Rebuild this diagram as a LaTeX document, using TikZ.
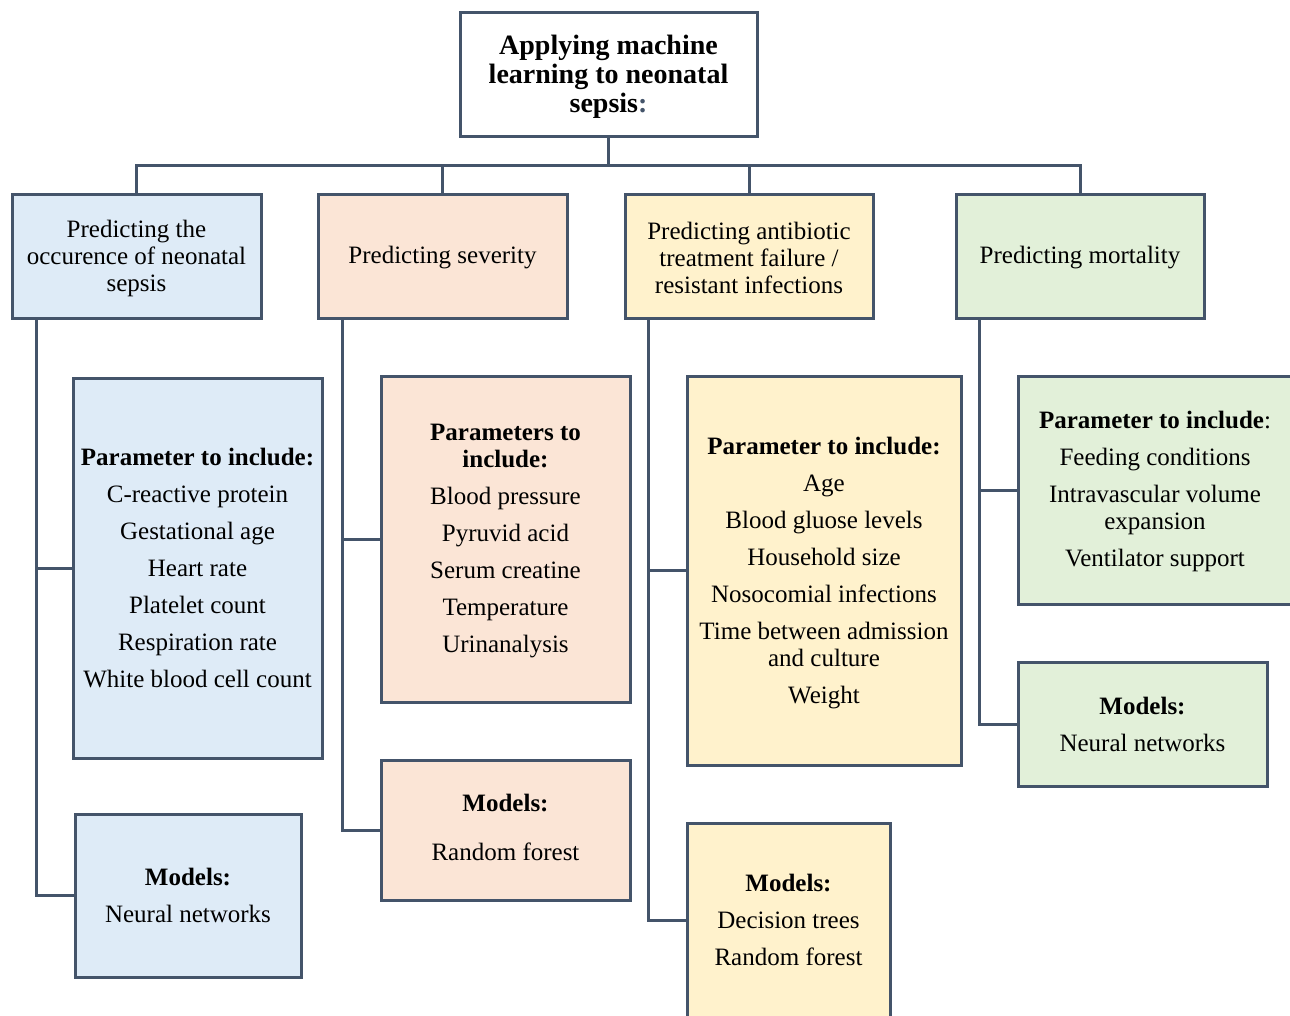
\documentclass[tikz,border=0pt]{standalone}
\usepackage{fontspec}
\setmainfont{Liberation Serif}
\definecolor{edge}{HTML}{44546A}
\definecolor{cblue}{HTML}{DEEBF7}
\definecolor{csalmon}{HTML}{FBE5D6}
\definecolor{cyellow}{HTML}{FFF2CC}
\definecolor{cgreen}{HTML}{E2F0D9}
\tikzset{
  box/.style={draw=edge, line width=3pt, rectangle, inner sep=0pt},
  tx/.style={align=center, inner sep=0pt, font=\fontsize{25}{27}\selectfont, text=black},
  wire/.style={draw=edge, line width=3pt},
}
\begin{document}
\begin{tikzpicture}[x=1pt,y=-1pt]
\clip (0,0) rectangle (1290,1015);
\fill[white] (0,0) rectangle (1290,1015);

\node[box, fill=white, minimum width=297, minimum height=124,
  label={[tx, yshift=-3pt, font=\fontsize{28}{29}\selectfont\bfseries]center:{Applying machine\\learning to neonatal\\sepsis{\color{edge}:}}}] (top) at (608.5,74) {};

\node[box, fill=cblue, minimum width=249, minimum height=124,
  label={[tx, yshift=-2pt]center:{Predicting the\\occurence of neonatal\\sepsis}}] (n1) at (136.5,256) {};
\node[box, fill=csalmon, minimum width=249, minimum height=124,
  label={[tx, yshift=-2pt]center:{Predicting severity}}] (n2) at (442.5,256) {};
\node[box, fill=cyellow, minimum width=248, minimum height=124,
  label={[tx, yshift=-2pt]center:{Predicting antibiotic\\treatment failure /\\resistant infections}}] (n3) at (749,256) {};
\node[box, fill=cgreen, minimum width=248, minimum height=124,
  label={[tx, yshift=-2pt]center:{Predicting mortality}}] (n4) at (1080,256) {};

\node[box, fill=cblue, minimum width=249, minimum height=380,
  label={[tx]center:{\textbf{Parameter to include:}\\[10pt]C-reactive protein\\[10pt]Gestational age\\[10pt]Heart rate\\[10pt]Platelet count\\[10pt]Respiration rate\\[10pt]White blood cell count}}] (bp) at (197.5,568) {};
\node[box, fill=cblue, minimum width=226, minimum height=163,
  label={[tx]center:{\textbf{Models:}\\[10pt]Neural networks}}] (bm) at (188,895.5) {};

\node[box, fill=csalmon, minimum width=249, minimum height=326,
  label={[tx, yshift=-2.5pt]center:{\textbf{Parameters to}\\\textbf{include:}\\[10pt]Blood pressure\\[10pt]Pyruvid acid\\[10pt]Serum creatine\\[10pt]Temperature\\[10pt]Urinanalysis}}] (sp) at (505.5,539) {};
\node[box, fill=csalmon, minimum width=249, minimum height=140,
  label={[tx, yshift=3pt]center:{\textbf{Models:}\\[22pt]Random forest}}] (sm) at (505.5,830) {};

\node[box, fill=cyellow, minimum width=274, minimum height=389,
  label={[tx, yshift=-2.5pt]center:{\textbf{Parameter to include:}\\[10pt]Age\\[10pt]Blood gluose levels\\[10pt]Household size\\[10pt]Nosocomial infections\\[10pt]Time between admission\\and culture\\[10pt]Weight}}] (yp) at (824,570.5) {};
\node[box, fill=cyellow, minimum width=203, minimum height=194,
  label={[tx]center:{\textbf{Models:}\\[10pt]Decision trees\\[10pt]Random forest}}] (ym) at (788.5,920) {};

\node[box, fill=cgreen, minimum width=274, minimum height=228,
  label={[tx, yshift=-1.5pt]center:{\textbf{Parameter to include}:\\[10pt]Feeding conditions\\[10pt]Intravascular volume\\expansion\\[10pt]Ventilator support}}] (gp) at (1155,490) {};
\node[box, fill=cgreen, minimum width=249, minimum height=124,
  label={[tx]center:{\textbf{Models:}\\[10pt]Neural networks}}] (gm) at (1142.5,724) {};

% bus
\coordinate (bus) at (608.5,165);
\draw[wire] (top.south) -- (bus);
\draw[wire] (n1.north) |- (bus) -| (n4.north);
\draw[wire] (n2.north) -- (n2.north |- bus);
\draw[wire] (n3.north) -- (n3.north |- bus);

% spines
\draw[wire] ([xshift=26pt]n1.south west) |- (bp.west);
\draw[wire] ([xshift=26pt]n1.south west) |- (bm.west);
\draw[wire] ([xshift=26pt]n2.south west) |- (sp.west);
\draw[wire] ([xshift=26pt]n2.south west) |- (sm.west);
\draw[wire] ([xshift=25pt]n3.south west) |- (yp.west);
\draw[wire] ([xshift=25pt]n3.south west) |- (ym.west);
\draw[wire] ([xshift=25pt]n4.south west) |- (gp.west);
\draw[wire] ([xshift=25pt]n4.south west) |- (gm.west);
\end{tikzpicture}
\end{document}
